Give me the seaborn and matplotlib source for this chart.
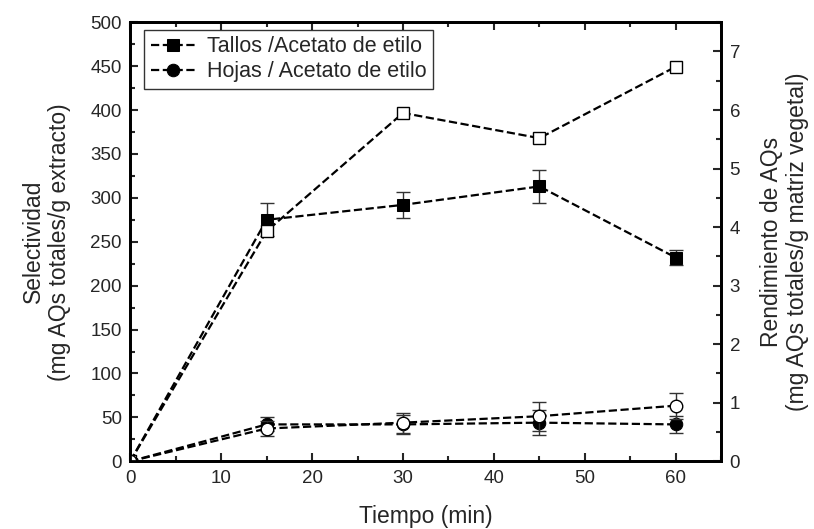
import numpy as np
import pandas as pd
import seaborn as sns
import matplotlib.pyplot as plt
from matplotlib.ticker import MultipleLocator

# data
tiempo = [0, 15, 30, 45, 60]

# selectividad (left axis), filled markers
sel_tallos = [0, 275, 292, 313, 232]
sel_tallos_err = [0, 19, 15, 19, 9]
sel_hojas = [0, 42, 42, 44, 42]
sel_hojas_err = [0, 8, 11, 14, 10]

# rendimiento (right axis), open markers
rend_tallos = [0, 3.93, 5.95, 5.52, 6.74]
rend_hojas = [0, 0.56, 0.66, 0.77, 0.95]
rend_hojas_err = [0, 0.12, 0.17, 0.25, 0.22]

sns.set_style("ticks")
plt.rcParams['font.family'] = ['Liberation Sans', 'DejaVu Sans']
plt.rcParams['font.size'] = 13.5

fig, ax = plt.subplots(figsize=(8.14, 5.29), dpi=100)
fig.subplots_adjust(left=0.16, right=0.886, bottom=0.128, top=0.958)
ax2 = ax.twinx()

line_kw = dict(color='black', linestyle='--', linewidth=1.6, dashes=(4, 3))

# error bars
ax.errorbar(tiempo, sel_tallos, yerr=sel_tallos_err, fmt='none', ecolor='#333333',
            elinewidth=1, capsize=5, capthick=1, zorder=2)
ax.errorbar(tiempo, sel_hojas, yerr=sel_hojas_err, fmt='none', ecolor='#333333',
            elinewidth=1, capsize=5, capthick=1, zorder=2)
ax2.errorbar(tiempo, rend_hojas, yerr=rend_hojas_err, fmt='none', ecolor='#333333',
             elinewidth=1, capsize=5, capthick=1, zorder=2)

sns.lineplot(x=tiempo, y=sel_tallos, ax=ax, marker='s', markersize=9,
             markerfacecolor='black', markeredgecolor='black',
             label='Tallos /Acetato de etilo', **line_kw)
sns.lineplot(x=tiempo, y=sel_hojas, ax=ax, marker='o', markersize=9,
             markerfacecolor='black', markeredgecolor='black',
             label='Hojas / Acetato de etilo', **line_kw)
sns.lineplot(x=tiempo, y=rend_tallos, ax=ax2, marker='s', markersize=8,
             markerfacecolor='white', markeredgecolor='black', markeredgewidth=1,
             legend=False, **line_kw)
sns.lineplot(x=tiempo, y=rend_hojas, ax=ax2, marker='o', markersize=9,
             markerfacecolor='white', markeredgecolor='black', markeredgewidth=1,
             legend=False, **line_kw)

ax.set_xlim(0, 65)
ax.set_ylim(0, 500)
ax2.set_ylim(0, 7.5)

ax.xaxis.set_major_locator(MultipleLocator(10))
ax.xaxis.set_minor_locator(MultipleLocator(5))
ax.yaxis.set_major_locator(MultipleLocator(50))
ax.yaxis.set_minor_locator(MultipleLocator(25))
ax2.yaxis.set_major_locator(MultipleLocator(1))
ax2.yaxis.set_minor_locator(MultipleLocator(0.5))

ax.tick_params(axis='both', which='major', direction='in', length=6, width=1.5,
               top=True, labelsize=13.5, pad=6)
ax.tick_params(axis='both', which='minor', direction='in', length=3.5, width=1.5, top=True)
ax.tick_params(axis='y', right=False, which='both')
ax2.tick_params(axis='y', which='major', direction='in', length=6, width=1.5,
                labelsize=13.5, pad=6)
ax2.tick_params(axis='y', which='minor', direction='in', length=3.5, width=1.5)

for a in (ax, ax2):
    for sp in a.spines.values():
        sp.set_linewidth(2)
        sp.set_color('black')
        sp.set_visible(True)

ax.set_xlabel('Tiempo (min)', fontsize=16.5, labelpad=13)
ax.set_ylabel('Selectividad\n(mg AQs totales/g extracto)', fontsize=16.5)
ax2.set_ylabel('Rendimiento de AQs\n(mg AQs totales/g matriz vegetal)', fontsize=16.5,
               rotation=90)
ax.yaxis.set_label_coords(-0.10, 0.5)
ax2.yaxis.set_label_coords(1.065, 0.5)

leg = ax.legend(loc='upper left', fontsize=15.5, frameon=True, fancybox=False,
                edgecolor='black', handlelength=2.1, handletextpad=0.5,
                borderpad=0.3, labelspacing=0.2, borderaxespad=0.0,
                bbox_to_anchor=(0.024, 0.983))
leg.get_frame().set_linewidth(1)

plt.savefig('out.png', dpi=100)
